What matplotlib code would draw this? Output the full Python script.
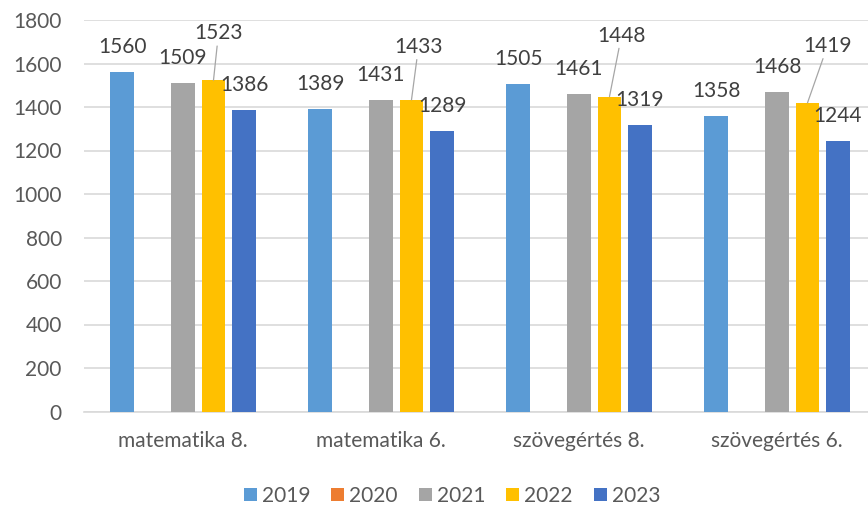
import numpy as np
import matplotlib
matplotlib.use("Agg")
import matplotlib.pyplot as plt

# adatok
categories = ["matematika 8.", "matematika 6.", "szövegértés 8.", "szövegértés 6."]
years = ["2019", "2020", "2021", "2022", "2023"]
v2019 = [1560, 1389, 1505, 1358]
v2020 = [np.nan, np.nan, np.nan, np.nan]
v2021 = [1509, 1431, 1461, 1468]
v2022 = [1523, 1433, 1448, 1419]
v2023 = [1386, 1289, 1319, 1244]
series = [v2019, v2020, v2021, v2022, v2023]
colors = ["#5B9BD5", "#ED7D31", "#A5A5A5", "#FFC000", "#4472C4"]

plt.rcParams["font.family"] = ["Lato", "DejaVu Sans"]
txt_col = "#595959"
lbl_col = "#404040"
fs = 15

fig = plt.figure(figsize=(8.68, 5.08), dpi=100)
ax = fig.add_axes([84 / 868, (508 - 411.5) / 508, 792 / 868, 391.5 / 508])

x = np.arange(len(categories))
slot = 0.154
width = 0.119
bars = []
for i, (vals, col) in enumerate(zip(series, colors)):
    b = ax.bar(x + (i - 2) * slot, vals, width=width, color=col, label=years[i], zorder=3)
    bars.append(b)

# címkék eltolása pixelben (2022 vezetővonallal feljebb)
lead_off = [(5, 47), (7, 53), (12, 61), (20, 57)]
for i, vals in enumerate(series):
    if i == 1:
        continue
    for j, v in enumerate(vals):
        xc = x[j] + (i - 2) * slot
        if i == 3:
            dx, dy = lead_off[j]
            ax.annotate(f"{v}", xy=(xc, v), xytext=(dx, dy), textcoords="offset pixels",
                        ha="center", va="center", fontsize=fs, color=lbl_col,
                        arrowprops=dict(arrowstyle="-", color="#A6A6A6", lw=0.9,
                                        shrinkA=0, shrinkB=0), zorder=5)
        else:
            ax.annotate(f"{v}", xy=(xc, v), xytext=(0, 25), textcoords="offset pixels",
                        ha="center", va="center", fontsize=fs, color=lbl_col, zorder=5)

ax.set_ylim(0, 1800)
ax.set_xlim(-0.5, 3.5)
ax.set_yticks(range(0, 1801, 200))
ax.set_xticks(x)
ax.set_xticklabels(categories)
ax.tick_params(axis="both", length=0, labelsize=fs, labelcolor=txt_col)
ax.tick_params(axis="y", pad=16)
ax.tick_params(axis="x", pad=14)
ax.grid(axis="y", color="#D9D9D9", lw=1.2, zorder=0)
for s in ["top", "right", "left"]:
    ax.spines[s].set_visible(False)
ax.spines["bottom"].set_color("#D9D9D9")
ax.spines["bottom"].set_linewidth(1.2)

leg = fig.legend(handles=bars, labels=years, loc="center", bbox_to_anchor=(452 / 868, (508 - 496) / 508),
                 ncol=5, frameon=False, fontsize=fs, handlelength=0.62, handleheight=0.62,
                 handletextpad=0.25, columnspacing=1.0, borderaxespad=0)
for t in leg.get_texts():
    t.set_color(txt_col)

fig.savefig("out.png", dpi=100)
